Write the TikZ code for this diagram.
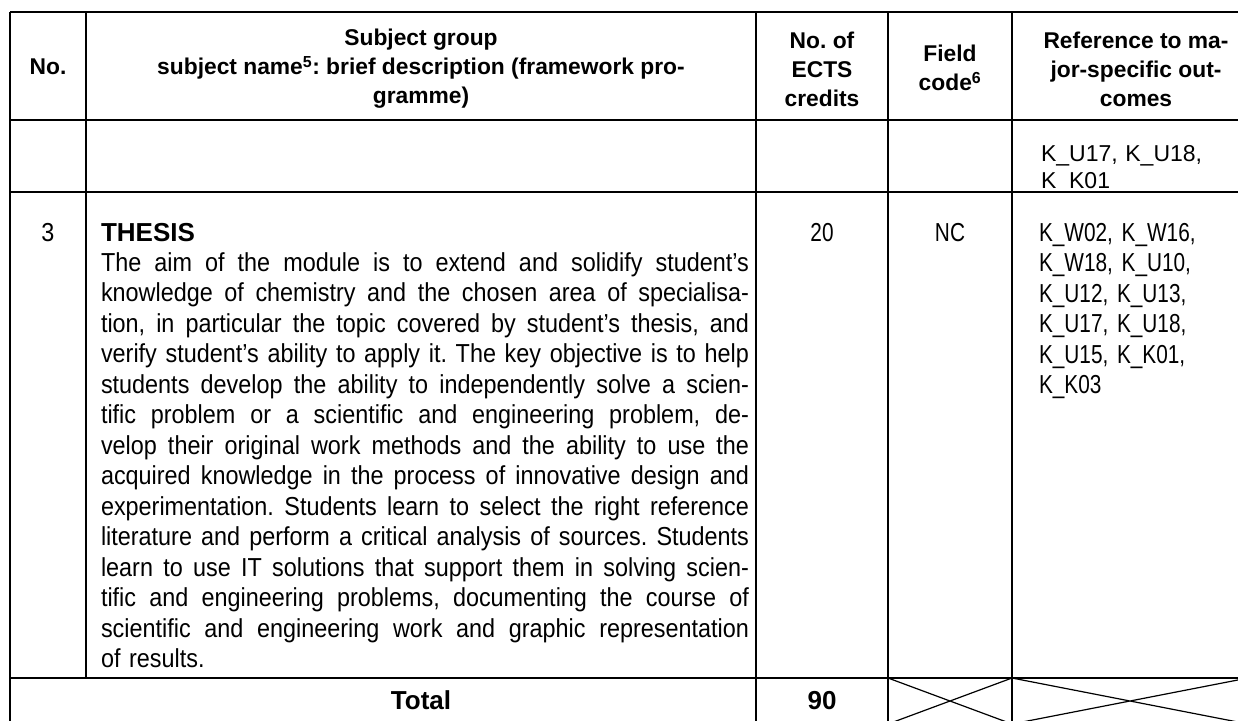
\documentclass[tikz,border=0pt]{standalone}
\usepackage{fontspec}
\setmainfont{Liberation Sans}
\newfontfamily\bodyf[FakeStretch=0.9]{Liberation Sans}
\newfontfamily\narrowf[FakeStretch=0.8]{Liberation Sans}
\newcommand{\jl}[1]{\makebox[648pt][s]{\spaceskip=\fontdimen2\font plus 1fil minus \fontdimen4\font\relax #1}\\}
\frenchspacing
\begin{document}
\begin{tikzpicture}[x=1pt,y=-1pt,line width=2pt,
  hdr/.style={font=\fontsize{22.8}{29}\selectfont\bfseries,align=center,inner sep=0},
  rowone/.style={font=\fontsize{23}{27.5}\selectfont,inner sep=0,text width=200pt,align=left,anchor=base west},
  bodytext/.style={font=\bodyf\fontsize{26}{30.5}\selectfont,inner sep=0,anchor=base west},
  reftext/.style={font=\narrowf\fontsize{26}{30.5}\selectfont,inner sep=0,text width=200pt,align=left,anchor=base west},
  cell/.style={font=\narrowf\fontsize{26}{30.5}\selectfont,inner sep=0,anchor=base},
  totaltext/.style={font=\fontsize{26}{30}\selectfont\bfseries,inner sep=0,anchor=base},
  crossline/.style={line width=1.2pt}]
\useasboundingbox (0,0) rectangle (1238,720);
\clip (0,0) rectangle (1238,720);
% horizontal rules
\draw (10,12) -- (1260,12);
\draw (10,120) -- (1260,120);
\draw (10,192) -- (1260,192);
\draw (10,678) -- (1260,678);
% vertical rules
\draw (10,12) -- (10,740);
\draw (86,12) -- (86,678);
\draw (756,12) -- (756,740);
\draw (888,12) -- (888,740);
\draw (1012,12) -- (1012,740);
% crossed cells
\draw[crossline] (888,678) -- (1012,724) (1012,678) -- (888,724);
\draw[crossline] (1012,678) -- (1248,724) (1248,678) -- (1012,724);
% header
\node[hdr] (hno) at (48,67) {No.};
\node[hdr] (hsub) at (421,69) {Subject group\\subject name\textsuperscript{5}: brief description (framework pro-\\gramme)};
\node[hdr] (hects) at (822,69) {No. of\\ECTS\\credits};
\node[hdr] (hfield) at (950,68) {Field\\code\textsuperscript{6}};
\node[hdr] (href) at (1136,69) {Reference to ma-\\jor-specific out-\\comes};
% row 1 (continued)
\node[rowone] (r1ref) at (1040,161) {K\_U17, K\_U18,\\K\_K01};
% row 2
\node[cell,font=\bodyf\fontsize{26}{30.5}\selectfont] (r2no) at (48,241) {3};
\node[bodytext,font=\fontsize{26}{30.5}\selectfont\bfseries] (r2title) at (100,241) {THESIS};
\node[bodytext,text width=648pt] (r2body) at (100,271) {%
\jl{The aim of the module is to extend and solidify student’s}
\jl{knowledge of chemistry and the chosen area of specialisa-}
\jl{tion, in particular the topic covered by student’s thesis, and}
\jl{verify student’s ability to apply it. The key objective is to help}
\jl{students develop the ability to independently solve a scien-}
\jl{tific problem or a scientific and engineering problem, de-}
\jl{velop their original work methods and the ability to use the}
\jl{acquired knowledge in the process of innovative design and}
\jl{experimentation. Students learn to select the right reference}
\jl{literature and perform a critical analysis of sources. Students}
\jl{learn to use IT solutions that support them in solving scien-}
\jl{tific and engineering problems, documenting the course of}
\jl{scientific and engineering work and graphic representation}
of results.};
\node[cell] (r2ects) at (822,241) {20};
\node[cell] (r2field) at (950,241) {NC};
\node[reftext] (r2ref) at (1038,241) {K\_W02, K\_W16,\\K\_W18, K\_U10,\\K\_U12, K\_U13,\\K\_U17, K\_U18,\\K\_U15, K\_K01,\\K\_K03};
% total row
\node[totaltext] (ttl) at (421,709) {Total};
\node[totaltext] (tnum) at (822,709) {90};
\end{tikzpicture}
\end{document}
